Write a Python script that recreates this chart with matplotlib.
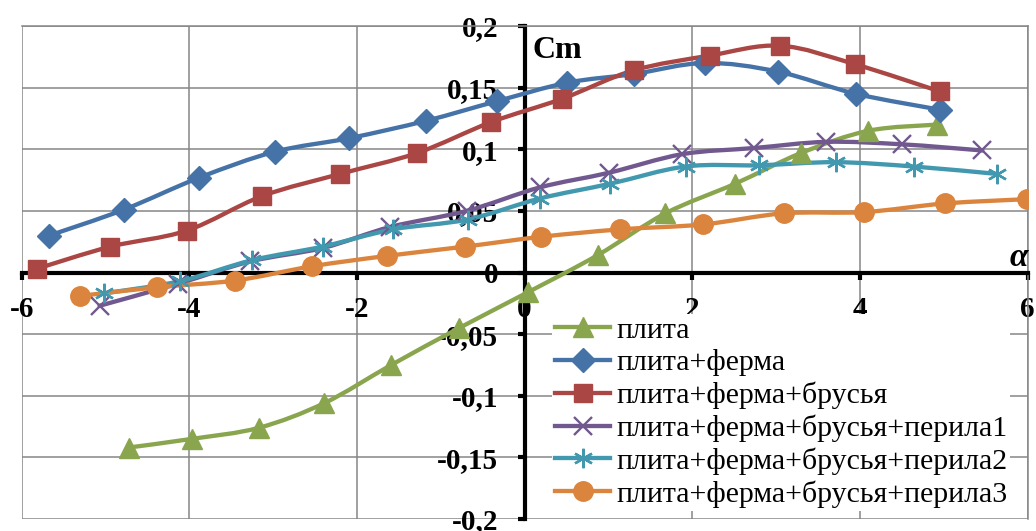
import numpy as np
import matplotlib
matplotlib.use('Agg')
import matplotlib.pyplot as plt
from matplotlib.path import Path
from matplotlib.patches import PathPatch
from matplotlib.lines import Line2D
from matplotlib.ticker import FuncFormatter, MultipleLocator

plt.rcParams['font.family'] = ['Liberation Serif', 'DejaVu Serif']

# Cm(alpha) for each configuration
labels = ['плита', 'плита+ферма', 'плита+ферма+брусья',
          'плита+ферма+брусья+перила1', 'плита+ферма+брусья+перила2',
          'плита+ферма+брусья+перила3']

plita_x = [-4.72, -3.97, -3.17, -2.39, -1.59, -0.78, 0.04, 0.87, 1.68, 2.51, 3.30, 4.10, 4.92]
plita_y = [-0.142, -0.135, -0.126, -0.106, -0.075, -0.045, -0.016, 0.014, 0.048, 0.072, 0.097, 0.115, 0.120]

ferma_x = [-5.67, -4.78, -3.88, -2.98, -2.09, -1.18, -0.33, 0.51, 1.30, 2.15, 3.02, 3.95, 4.96]
ferma_y = [0.030, 0.051, 0.077, 0.098, 0.109, 0.123, 0.139, 0.154, 0.161, 0.170, 0.163, 0.145, 0.132]

brus_x = [-5.82, -4.94, -4.03, -3.13, -2.20, -1.28, -0.40, 0.45, 1.30, 2.21, 3.05, 3.94, 4.95]
brus_y = [0.003, 0.021, 0.034, 0.062, 0.080, 0.097, 0.122, 0.141, 0.164, 0.176, 0.184, 0.169, 0.147]

per1_x = [-5.07, -4.13, -3.27, -2.40, -1.60, -0.69, 0.18, 1.01, 1.88, 2.74, 3.60, 4.50, 5.46]
per1_y = [-0.027, -0.009, 0.009, 0.020, 0.037, 0.050, 0.069, 0.081, 0.096, 0.101, 0.106, 0.104, 0.099]

per2_x = [-5.02, -4.11, -3.25, -2.41, -1.57, -0.68, 0.18, 1.02, 1.92, 2.80, 3.71, 4.64, 5.63]
per2_y = [-0.017, -0.007, 0.010, 0.021, 0.035, 0.043, 0.060, 0.072, 0.086, 0.087, 0.0895, 0.086, 0.080]

per3_x = [-5.30, -4.39, -3.45, -2.54, -1.64, -0.71, 0.20, 1.14, 2.13, 3.09, 4.05, 5.01, 5.99]
per3_y = [-0.019, -0.012, -0.0065, 0.005, 0.0135, 0.021, 0.029, 0.035, 0.039, 0.048, 0.049, 0.056, 0.0595]

series = [(plita_x, plita_y), (ferma_x, ferma_y), (brus_x, brus_y),
          (per1_x, per1_y), (per2_x, per2_y), (per3_x, per3_y)]
colors = ['#89A54E', '#4572A7', '#AA4643', '#71588F', '#4198AF', '#DB843D']
markers = ['^', 'D', 's', 'x', (6, 2, 0), 'o']
msizes = [14, 12, 13, 13, 14, 14]


def smooth_path(x, y):
    # Excel-like smoothed line: cubic Bezier through the points
    p = np.column_stack([x, y])
    n = len(p)
    verts = [p[0]]
    codes = [Path.MOVETO]
    for i in range(n - 1):
        a = p[i - 1] if i > 0 else p[i]
        d = p[i + 2] if i + 2 < n else p[i + 1]
        c1 = p[i] + (p[i + 1] - a) / 6
        c2 = p[i + 1] - (d - p[i]) / 6
        verts += [c1, c2, p[i + 1]]
        codes += [Path.CURVE4] * 3
    return Path(verts, codes)


fig = plt.figure(figsize=(10.36, 5.31), dpi=100)
ax = fig.add_axes([21.6 / 1036, 12 / 531, 1006 / 1036, 493 / 531])
ax.set_xlim(-6, 6)
ax.set_ylim(-0.2, 0.2)

ax.xaxis.set_major_locator(MultipleLocator(2))
ax.yaxis.set_major_locator(MultipleLocator(0.05))
ax.grid(True, color='#868686', lw=1.1)
ax.set_axisbelow(True)

for side in ['top', 'right']:
    ax.spines[side].set_color('#868686')
    ax.spines[side].set_linewidth(1.1)
for side in ['left', 'bottom']:
    ax.spines[side].set_position(('data', 0))
    ax.spines[side].set_color('black')
    ax.spines[side].set_linewidth(3)
    ax.spines[side].set_zorder(2.5)

fmt = FuncFormatter(lambda v, pos: ('%g' % round(v, 3)).replace('.', ','))
ax.yaxis.set_major_formatter(fmt)
ax.xaxis.set_major_formatter(FuncFormatter(lambda v, pos: '%g' % v))
ax.tick_params(axis='both', direction='out', length=5, width=3, color='black',
               labelsize=21)
ax.tick_params(axis='x', pad=12)
ax.tick_params(axis='y', pad=14)
for t in ax.get_xticklabels() + ax.get_yticklabels():
    t.set_fontweight('bold')

handles = []
for (x, y), c, m, ms, lab in zip(series, colors, markers, msizes, labels):
    ax.add_patch(PathPatch(smooth_path(x, y), fill=False, ec=c, lw=3.1,
                           capstyle='round', joinstyle='round', zorder=3))
    ax.plot(x, y, ls='none', marker=m, ms=ms, color=c, mfc=c, mec=c,
            mew=1.7 if m in ('x', (6, 2, 0)) else 1, zorder=4)
    handles.append(Line2D([], [], color=c, lw=3.1, marker=m, ms=ms, mfc=c, mec=c,
                          mew=1.7 if m in ('x', (6, 2, 0)) else 1))

ax.text(0.508, 0.951, 'Cm', transform=ax.transAxes, fontsize=23,
        fontweight='bold', ha='left', va='center')
ax.text(1.0, 0.5, 'α', transform=ax.transAxes, fontsize=24,
        fontweight='bold', fontstyle='italic', ha='right', va='bottom')

leg = ax.legend(handles, labels, loc='upper left',
                bbox_to_anchor=(552 / 1036, 1 - 314 / 531),
                bbox_transform=fig.transFigure, fontsize=21.5, frameon=True,
                fancybox=False, edgecolor='none', facecolor='white', framealpha=1,
                handlelength=1.85, handletextpad=0.2, labelspacing=0.18,
                borderpad=0.1, borderaxespad=0)
leg.set_zorder(5)

plt.savefig('out.png', dpi=100)
